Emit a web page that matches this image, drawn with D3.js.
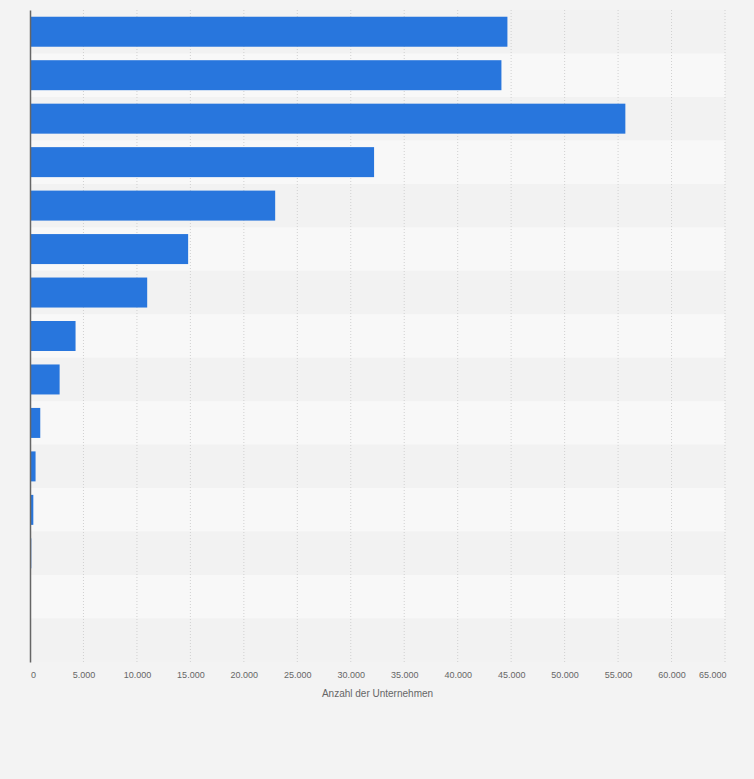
<!DOCTYPE html>
<html>
<head>
<meta charset="utf-8">
<script src="https://cdn.jsdelivr.net/npm/d3@7"></script>
<style>
  html, body { margin: 0; padding: 0; background: #f3f3f3; }
  svg { display: block; font-family: "Liberation Sans", Arial, sans-serif; }
</style>
</head>
<body>
<div id="chart"></div>
<script>
const categories = [
  "Klasse 1", "Klasse 2", "Klasse 3", "Klasse 4", "Klasse 5",
  "Klasse 6", "Klasse 7", "Klasse 8", "Klasse 9", "Klasse 10",
  "Klasse 11", "Klasse 12", "Klasse 13", "Klasse 14", "Klasse 15"
];
const values = [
  44650, 44090, 55680, 32180, 22930,
  14790, 10960, 4260, 2770, 960,
  520, 310, 120, 0, 0
];
const xTicks = [0, 5000, 10000, 15000, 20000, 25000, 30000, 35000,
  40000, 45000, 50000, 55000, 60000, 65000];
const axisTitle = "Anzahl der Unternehmen";

const width = 754, height = 779;
const margin = { top: 10, right: 29, bottom: 117, left: 30 };

const data = categories.map((c, i) => ({ name: c, value: values[i] }));

const x = d3.scaleLinear()
  .domain([0, 65000])
  .range([margin.left, width - margin.right]);

const y = d3.scaleBand()
  .domain(categories)
  .range([margin.top, height - margin.bottom])
  .paddingInner(0.31)
  .paddingOuter(0.155);

const fmt = d3.formatLocale({ decimal: ",", thousands: ".", grouping: [3], currency: ["", " €"] }).format(",d");

const svg = d3.select("#chart").append("svg")
  .attr("width", width)
  .attr("height", height);

svg.append("rect")
  .attr("width", width).attr("height", height)
  .attr("fill", "#f3f3f3");

// alternating row stripes
const step = y.step();
svg.append("g")
  .selectAll("rect")
  .data(categories)
  .join("rect")
    .attr("x", margin.left)
    .attr("y", d => y(d) - step * y.paddingInner() / 2)
    .attr("width", x(65000) - margin.left)
    .attr("height", step)
    .attr("fill", (d, i) => i % 2 === 0 ? "#f2f2f2" : "#f8f8f8");

// vertical grid
svg.append("g")
  .selectAll("line")
  .data(xTicks.slice(1))
  .join("line")
    .attr("x1", d => x(d)).attr("x2", d => x(d))
    .attr("y1", margin.top).attr("y2", height - margin.bottom)
    .attr("stroke", "#d0d0d0")
    .attr("stroke-width", 1)
    .attr("stroke-dasharray", "1,2");

// bars
svg.append("g")
  .attr("fill", "#2876dd")
  .selectAll("rect")
  .data(data)
  .join("rect")
    .attr("x", x(0))
    .attr("y", d => y(d.name))
    .attr("width", d => x(d.value) - x(0))
    .attr("height", y.bandwidth());

// x axis
const xAxis = svg.append("g")
  .attr("transform", `translate(0,${height - margin.bottom})`)
  .call(d3.axisBottom(x).tickValues(xTicks).tickFormat(fmt).tickSize(0).tickPadding(10))
  .call(g => g.select(".domain").remove());
xAxis.selectAll("text")
  .attr("fill", "#666")
  .style("font-size", "9px")
  .attr("text-anchor", (d, i) => i === xTicks.length - 1 ? "end" : "middle")
  .attr("dx", (d, i) => i === 0 ? "3" : (i === xTicks.length - 1 ? "1" : "0"));

// y axis line (no labels)
svg.append("g")
  .attr("transform", `translate(${margin.left},0)`)
  .call(d3.axisLeft(y).tickSize(0).tickFormat(""))
  .call(g => g.select(".domain").attr("stroke", "#666").attr("stroke-width", 1.5));

svg.append("text")
  .attr("x", (x(0) + x(65000)) / 2)
  .attr("y", 697)
  .attr("text-anchor", "middle")
  .attr("fill", "#666")
  .style("font-size", "10px")
  .text(axisTitle);
</script>
</body>
</html>
